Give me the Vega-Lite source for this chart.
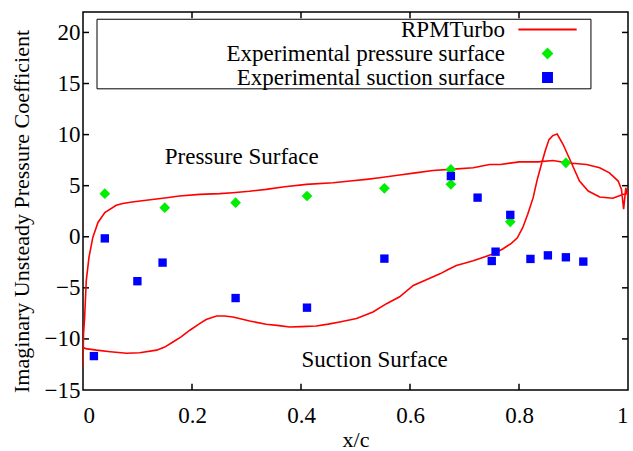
{
  "$schema": "https://vega.github.io/schema/vega-lite/v6.json",
  "autosize": "none",
  "width": 545,
  "height": 378,
  "padding": {"left": 83, "top": 12, "right": 5, "bottom": 61},
  "config": {
    "font": "Liberation Serif",
    "view": {"stroke": "black", "strokeWidth": 1.5},
    "axis": {"grid": false, "domain": false, "ticks": false, "tickSize": 0, "labelColor": "black", "titleColor": "black", "labelFont": "Liberation Serif", "titleFont": "Liberation Serif", "labelFontSize": 23, "titleFontSize": 22, "titleFontWeight": "normal"},
    "legend": {"orient": "none", "legendX": 453, "legendY": 6, "title": null, "labelAlign": "right", "labelOffset": -54, "labelFontSize": 23, "labelFont": "Liberation Serif", "labelColor": "black", "labelLimit": 500, "rowPadding": -2}
  },
  "datasets": {
    "curve": [
      {"series": "RPMTurbo", "i": 1, "x": 1.0, "y": 4.3},
      {"series": "RPMTurbo", "i": 2, "x": 0.988, "y": 4.09},
      {"series": "RPMTurbo", "i": 3, "x": 0.972, "y": 3.77},
      {"series": "RPMTurbo", "i": 4, "x": 0.948, "y": 3.89},
      {"series": "RPMTurbo", "i": 5, "x": 0.927, "y": 4.48},
      {"series": "RPMTurbo", "i": 6, "x": 0.911, "y": 5.45},
      {"series": "RPMTurbo", "i": 7, "x": 0.896, "y": 7.24},
      {"series": "RPMTurbo", "i": 8, "x": 0.881, "y": 9.03},
      {"series": "RPMTurbo", "i": 9, "x": 0.870, "y": 10.06},
      {"series": "RPMTurbo", "i": 10, "x": 0.862, "y": 9.9},
      {"series": "RPMTurbo", "i": 11, "x": 0.855, "y": 9.51},
      {"series": "RPMTurbo", "i": 12, "x": 0.848, "y": 8.4},
      {"series": "RPMTurbo", "i": 13, "x": 0.841, "y": 7.08},
      {"series": "RPMTurbo", "i": 14, "x": 0.833, "y": 5.5},
      {"series": "RPMTurbo", "i": 15, "x": 0.826, "y": 3.83},
      {"series": "RPMTurbo", "i": 16, "x": 0.816, "y": 2.2},
      {"series": "RPMTurbo", "i": 17, "x": 0.807, "y": 0.91},
      {"series": "RPMTurbo", "i": 18, "x": 0.797, "y": -0.1},
      {"series": "RPMTurbo", "i": 19, "x": 0.786, "y": -0.65},
      {"series": "RPMTurbo", "i": 20, "x": 0.770, "y": -1.2},
      {"series": "RPMTurbo", "i": 21, "x": 0.752, "y": -1.69},
      {"series": "RPMTurbo", "i": 22, "x": 0.735, "y": -2.0},
      {"series": "RPMTurbo", "i": 23, "x": 0.716, "y": -2.34},
      {"series": "RPMTurbo", "i": 24, "x": 0.700, "y": -2.6},
      {"series": "RPMTurbo", "i": 25, "x": 0.685, "y": -2.82},
      {"series": "RPMTurbo", "i": 26, "x": 0.670, "y": -3.2},
      {"series": "RPMTurbo", "i": 27, "x": 0.655, "y": -3.63},
      {"series": "RPMTurbo", "i": 28, "x": 0.630, "y": -4.2},
      {"series": "RPMTurbo", "i": 29, "x": 0.606, "y": -4.77},
      {"series": "RPMTurbo", "i": 30, "x": 0.581, "y": -5.88},
      {"series": "RPMTurbo", "i": 31, "x": 0.557, "y": -6.55},
      {"series": "RPMTurbo", "i": 32, "x": 0.532, "y": -7.37},
      {"series": "RPMTurbo", "i": 33, "x": 0.502, "y": -8.01},
      {"series": "RPMTurbo", "i": 34, "x": 0.471, "y": -8.34},
      {"series": "RPMTurbo", "i": 35, "x": 0.450, "y": -8.55},
      {"series": "RPMTurbo", "i": 36, "x": 0.428, "y": -8.73},
      {"series": "RPMTurbo", "i": 37, "x": 0.400, "y": -8.80},
      {"series": "RPMTurbo", "i": 38, "x": 0.379, "y": -8.83},
      {"series": "RPMTurbo", "i": 39, "x": 0.360, "y": -8.70},
      {"series": "RPMTurbo", "i": 40, "x": 0.336, "y": -8.57},
      {"series": "RPMTurbo", "i": 41, "x": 0.306, "y": -8.24},
      {"series": "RPMTurbo", "i": 42, "x": 0.275, "y": -7.86},
      {"series": "RPMTurbo", "i": 43, "x": 0.260, "y": -7.75},
      {"series": "RPMTurbo", "i": 44, "x": 0.245, "y": -7.76},
      {"series": "RPMTurbo", "i": 45, "x": 0.226, "y": -8.10},
      {"series": "RPMTurbo", "i": 46, "x": 0.214, "y": -8.50},
      {"series": "RPMTurbo", "i": 47, "x": 0.196, "y": -9.15},
      {"series": "RPMTurbo", "i": 48, "x": 0.180, "y": -9.80},
      {"series": "RPMTurbo", "i": 49, "x": 0.165, "y": -10.3},
      {"series": "RPMTurbo", "i": 50, "x": 0.150, "y": -10.8},
      {"series": "RPMTurbo", "i": 51, "x": 0.135, "y": -11.1},
      {"series": "RPMTurbo", "i": 52, "x": 0.104, "y": -11.36},
      {"series": "RPMTurbo", "i": 53, "x": 0.080, "y": -11.4},
      {"series": "RPMTurbo", "i": 54, "x": 0.050, "y": -11.25},
      {"series": "RPMTurbo", "i": 55, "x": 0.025, "y": -11.1},
      {"series": "RPMTurbo", "i": 56, "x": 0.005, "y": -10.95},
      {"series": "RPMTurbo", "i": 57, "x": 0.0, "y": -10.8},
      {"series": "RPMTurbo", "i": 58, "x": 0.0, "y": -12.7},
      {"series": "RPMTurbo", "i": 59, "x": 0.001, "y": -9.5},
      {"series": "RPMTurbo", "i": 60, "x": 0.003, "y": -7.9},
      {"series": "RPMTurbo", "i": 61, "x": 0.006, "y": -4.3},
      {"series": "RPMTurbo", "i": 62, "x": 0.011, "y": -2.0},
      {"series": "RPMTurbo", "i": 63, "x": 0.018, "y": -0.07},
      {"series": "RPMTurbo", "i": 64, "x": 0.0275, "y": 1.4},
      {"series": "RPMTurbo", "i": 65, "x": 0.040, "y": 2.37},
      {"series": "RPMTurbo", "i": 66, "x": 0.061, "y": 3.08},
      {"series": "RPMTurbo", "i": 67, "x": 0.073, "y": 3.25},
      {"series": "RPMTurbo", "i": 68, "x": 0.090, "y": 3.40},
      {"series": "RPMTurbo", "i": 69, "x": 0.116, "y": 3.57},
      {"series": "RPMTurbo", "i": 70, "x": 0.150, "y": 3.80},
      {"series": "RPMTurbo", "i": 71, "x": 0.177, "y": 3.99},
      {"series": "RPMTurbo", "i": 72, "x": 0.214, "y": 4.15},
      {"series": "RPMTurbo", "i": 73, "x": 0.251, "y": 4.22},
      {"series": "RPMTurbo", "i": 74, "x": 0.275, "y": 4.31},
      {"series": "RPMTurbo", "i": 75, "x": 0.305, "y": 4.45},
      {"series": "RPMTurbo", "i": 76, "x": 0.336, "y": 4.64},
      {"series": "RPMTurbo", "i": 77, "x": 0.370, "y": 4.90},
      {"series": "RPMTurbo", "i": 78, "x": 0.410, "y": 5.13},
      {"series": "RPMTurbo", "i": 79, "x": 0.459, "y": 5.29},
      {"series": "RPMTurbo", "i": 80, "x": 0.490, "y": 5.45},
      {"series": "RPMTurbo", "i": 81, "x": 0.520, "y": 5.62},
      {"series": "RPMTurbo", "i": 82, "x": 0.544, "y": 5.77},
      {"series": "RPMTurbo", "i": 83, "x": 0.581, "y": 6.04},
      {"series": "RPMTurbo", "i": 84, "x": 0.610, "y": 6.25},
      {"series": "RPMTurbo", "i": 85, "x": 0.642, "y": 6.49},
      {"series": "RPMTurbo", "i": 86, "x": 0.680, "y": 6.62},
      {"series": "RPMTurbo", "i": 87, "x": 0.716, "y": 6.75},
      {"series": "RPMTurbo", "i": 88, "x": 0.746, "y": 7.08},
      {"series": "RPMTurbo", "i": 89, "x": 0.766, "y": 7.08},
      {"series": "RPMTurbo", "i": 90, "x": 0.801, "y": 7.33},
      {"series": "RPMTurbo", "i": 91, "x": 0.835, "y": 7.33},
      {"series": "RPMTurbo", "i": 92, "x": 0.862, "y": 7.47},
      {"series": "RPMTurbo", "i": 93, "x": 0.887, "y": 7.24},
      {"series": "RPMTurbo", "i": 94, "x": 0.924, "y": 7.08},
      {"series": "RPMTurbo", "i": 95, "x": 0.948, "y": 6.75},
      {"series": "RPMTurbo", "i": 96, "x": 0.966, "y": 6.26},
      {"series": "RPMTurbo", "i": 97, "x": 0.982, "y": 5.45},
      {"series": "RPMTurbo", "i": 98, "x": 0.988, "y": 4.64},
      {"series": "RPMTurbo", "i": 99, "x": 0.992, "y": 2.7},
      {"series": "RPMTurbo", "i": 100, "x": 0.996, "y": 4.8},
      {"series": "RPMTurbo", "i": 101, "x": 1.0, "y": 3.9},
      {"series": "RPMTurbo", "i": 102, "x": 1.0, "y": 4.3}
    ],
    "pres": [
      {"series": "Experimental pressure surface", "x": 0.040, "y": 4.22},
      {"series": "Experimental pressure surface", "x": 0.150, "y": 2.85},
      {"series": "Experimental pressure surface", "x": 0.280, "y": 3.34},
      {"series": "Experimental pressure surface", "x": 0.411, "y": 3.99},
      {"series": "Experimental pressure surface", "x": 0.553, "y": 4.74},
      {"series": "Experimental pressure surface", "x": 0.675, "y": 6.59},
      {"series": "Experimental pressure surface", "x": 0.675, "y": 5.13},
      {"series": "Experimental pressure surface", "x": 0.784, "y": 1.46},
      {"series": "Experimental pressure surface", "x": 0.886, "y": 7.24}
    ],
    "suc": [
      {"series": "Experimental suction surface", "x": 0.020, "y": -11.68},
      {"series": "Experimental suction surface", "x": 0.040, "y": -0.16},
      {"series": "Experimental suction surface", "x": 0.0998, "y": -4.35},
      {"series": "Experimental suction surface", "x": 0.146, "y": -2.53},
      {"series": "Experimental suction surface", "x": 0.280, "y": -6.0},
      {"series": "Experimental suction surface", "x": 0.411, "y": -6.94},
      {"series": "Experimental suction surface", "x": 0.553, "y": -2.14},
      {"series": "Experimental suction surface", "x": 0.675, "y": 5.94},
      {"series": "Experimental suction surface", "x": 0.724, "y": 3.83},
      {"series": "Experimental suction surface", "x": 0.784, "y": 2.14},
      {"series": "Experimental suction surface", "x": 0.757, "y": -1.46},
      {"series": "Experimental suction surface", "x": 0.750, "y": -2.37},
      {"series": "Experimental suction surface", "x": 0.821, "y": -2.17},
      {"series": "Experimental suction surface", "x": 0.853, "y": -1.82},
      {"series": "Experimental suction surface", "x": 0.886, "y": -2.01},
      {"series": "Experimental suction surface", "x": 0.918, "y": -2.43}
    ],
    "notes": [
      {"text": "Pressure Surface", "x": 0.150, "y": 7.8},
      {"text": "Suction Surface", "x": 0.401, "y": -12.05}
    ],
    "keybox": [
      {"x": 0.0257, "x2": 0.932, "y": 14.48, "y2": 21.29}
    ],
    "xticks": [{"v": 0.2}, {"v": 0.4}, {"v": 0.6}, {"v": 0.8}],
    "yticks": [{"v": -10}, {"v": -5}, {"v": 0}, {"v": 5}, {"v": 10}, {"v": 15}, {"v": 20}]
  },
  "layer": [
    {
      "data": {"name": "keybox"},
      "mark": {"type": "rect", "fill": null, "stroke": "black", "strokeWidth": 1},
      "encoding": {
        "x": {"field": "x", "type": "quantitative", "scale": {"domain": [0, 1], "nice": false}, "axis": {"orient": "bottom", "values": [0, 0.2, 0.4, 0.6, 0.8, 1], "format": "~g", "title": "x/c", "labelPadding": 14, "titlePadding": 2}},
        "x2": {"field": "x2"},
        "y": {"field": "y", "type": "quantitative", "scale": {"domain": [-15, 22], "nice": false}, "axis": {"orient": "left", "values": [-15, -10, -5, 0, 5, 10, 15, 20], "title": "Imaginary Unsteady Pressure Coefficient", "labelPadding": 3, "titlePadding": 11, "titleY": 199}},
        "y2": {"field": "y2"}
      }
    },
    {
      "data": {"name": "xticks"},
      "mark": {"type": "rule", "color": "black", "strokeWidth": 1.5},
      "encoding": {
        "x": {"field": "v", "type": "quantitative"},
        "y": {"datum": -15, "type": "quantitative"},
        "y2": {"datum": -14.4}
      }
    },
    {
      "data": {"name": "xticks"},
      "mark": {"type": "rule", "color": "black", "strokeWidth": 1.5},
      "encoding": {
        "x": {"field": "v", "type": "quantitative"},
        "y": {"datum": 22, "type": "quantitative"},
        "y2": {"datum": 21.4}
      }
    },
    {
      "data": {"name": "yticks"},
      "mark": {"type": "rule", "color": "black", "strokeWidth": 1.5},
      "encoding": {
        "y": {"field": "v", "type": "quantitative"},
        "x": {"datum": 0, "type": "quantitative"},
        "x2": {"datum": 0.011}
      }
    },
    {
      "data": {"name": "yticks"},
      "mark": {"type": "rule", "color": "black", "strokeWidth": 1.5},
      "encoding": {
        "y": {"field": "v", "type": "quantitative"},
        "x": {"datum": 1, "type": "quantitative"},
        "x2": {"datum": 0.989}
      }
    },
    {
      "data": {"name": "curve"},
      "mark": {"type": "line", "color": "#ff0000", "strokeWidth": 1.6, "clip": true},
      "encoding": {
        "x": {"field": "x", "type": "quantitative"},
        "y": {"field": "y", "type": "quantitative"},
        "order": {"field": "i", "type": "quantitative"},
        "color": {"field": "series", "type": "nominal", "scale": {"domain": ["RPMTurbo", "Experimental pressure surface", "Experimental suction surface"], "range": ["#ff0000", "#00ee00", "#0000ff"]}, "legend": {"encode": {"symbols": {"update": {"stroke": {"scale": "color", "field": "value"}, "strokeWidth": {"value": 2}, "size": {"signal": "datum.value === 'RPMTurbo' ? 3400 : 80"}}}}}}
      }
    },
    {
      "data": {"name": "pres"},
      "mark": {"type": "point", "filled": true, "opacity": 1, "size": 115},
      "encoding": {
        "x": {"field": "x", "type": "quantitative"},
        "y": {"field": "y", "type": "quantitative"},
        "color": {"field": "series", "type": "nominal"},
        "shape": {"field": "series", "type": "nominal", "scale": {"domain": ["RPMTurbo", "Experimental pressure surface", "Experimental suction surface"], "range": ["stroke", "diamond", "square"]}}
      }
    },
    {
      "data": {"name": "suc"},
      "mark": {"type": "point", "filled": true, "opacity": 1, "size": 70},
      "encoding": {
        "x": {"field": "x", "type": "quantitative"},
        "y": {"field": "y", "type": "quantitative"},
        "color": {"field": "series", "type": "nominal"},
        "shape": {"field": "series", "type": "nominal"}
      }
    },
    {
      "data": {"name": "notes"},
      "mark": {"type": "text", "align": "left", "baseline": "middle", "fontSize": 23, "font": "Liberation Serif", "color": "black"},
      "encoding": {
        "x": {"field": "x", "type": "quantitative"},
        "y": {"field": "y", "type": "quantitative"},
        "text": {"field": "text"}
      }
    }
  ]
}
